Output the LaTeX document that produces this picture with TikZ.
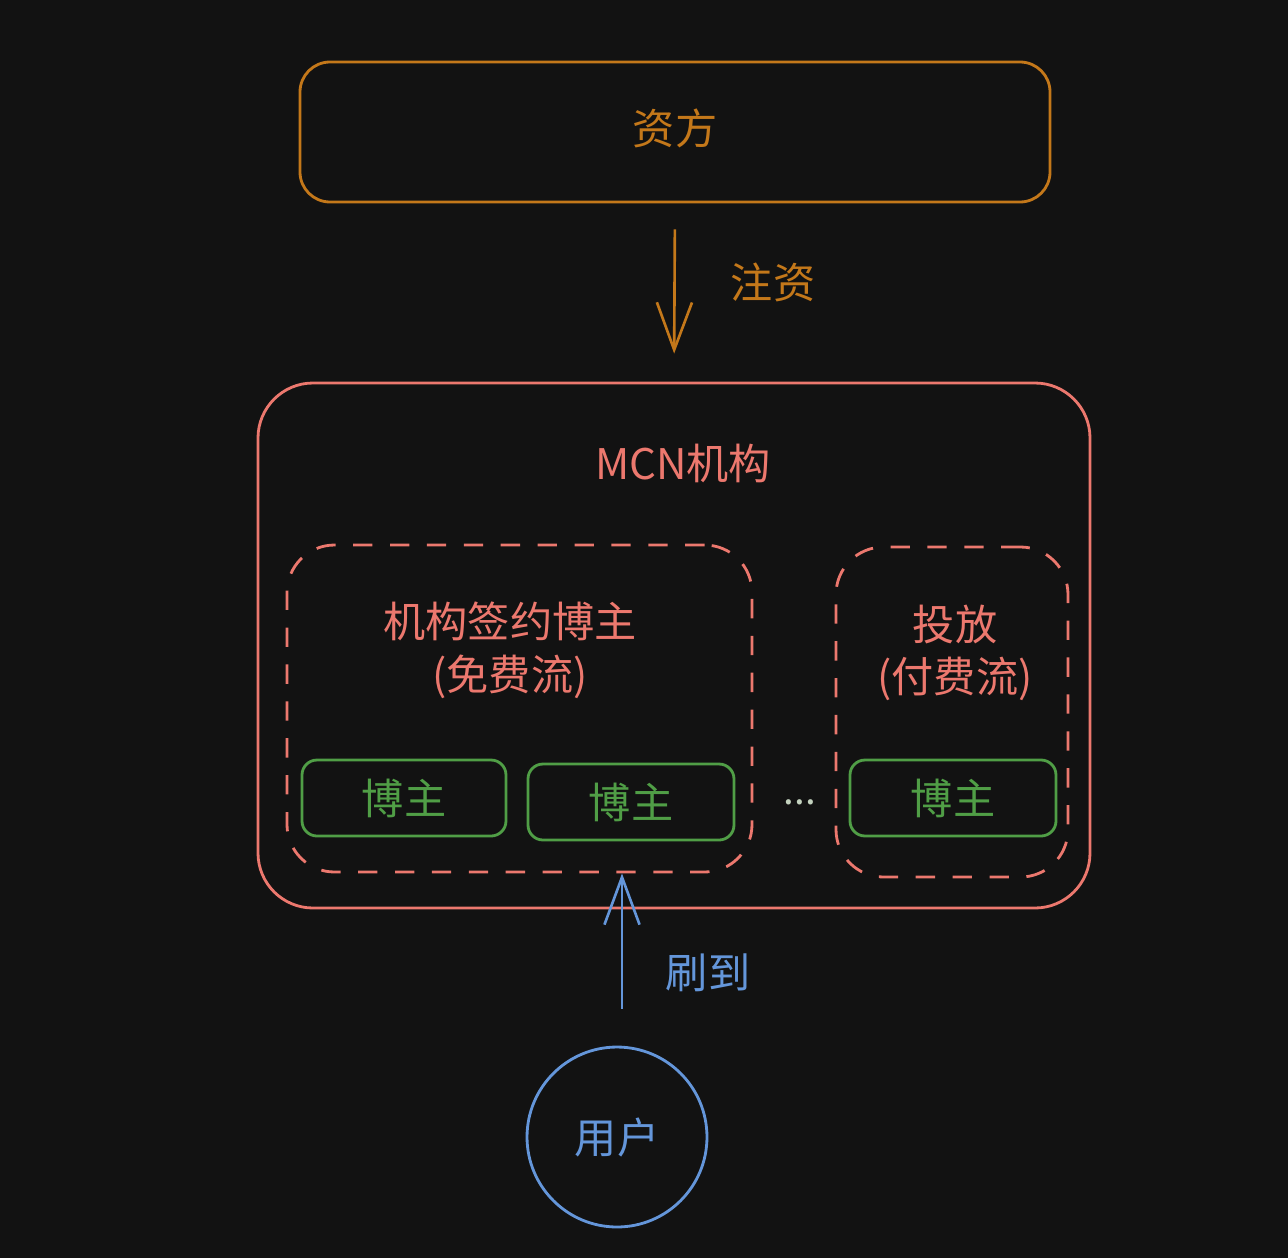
\documentclass[tikz,border=0pt]{standalone}
\usepackage{fontspec}
\setmainfont{Noto Sans CJK SC}
\usetikzlibrary{positioning,arrows.meta,fit}
\definecolor{bgdark}{RGB}{18,18,18}
\definecolor{fundorange}{RGB}{196,120,26}
\definecolor{mcnred}{RGB}{236,120,110}
\definecolor{bloggreen}{RGB}{80,158,70}
\definecolor{userblue}{RGB}{100,150,218}
\definecolor{dotgray}{RGB}{195,210,190}

\begin{document}
\begin{tikzpicture}[x=0.02cm,y=-0.02cm,
  every node/.style={font=\fontsize{24}{30}\selectfont},
  box/.style={draw,line width=1.6pt,inner sep=0pt},
  groupbox/.style={box,mcnred,dash pattern=on 11pt off 10pt,rounded corners=0.95cm},
  bloggerbox/.style={box,bloggreen,rounded corners=0.3cm},
  flow/.style={line width=1.5pt,-{Straight Barb[length=27pt,width=20pt,line width=1.5pt]}}]
\fill[bgdark] (0,0) rectangle (1288,1258);

% investor
\node[box,fundorange,rounded corners=0.6cm,fit={(300,62) (1050,202)}] (fund) {};
\node[fundorange] (fundlabel) at (675,128) {资方};

% MCN
\node[box,mcnred,rounded corners=1.1cm,fit={(258,383) (1090,908)}] (mcn) {};
\node[mcnred] (mcnlabel) at (683,463) {MCN机构};

% free flow / paid flow
\node[groupbox,fit={(287,545) (752,872)}] (free) {};
\node[mcnred,align=center] (freelabel) at (510,650) {机构签约博主\\(免费流)};
\node[groupbox,fit={(836,547) (1068,877)}] (paid) {};
\node[mcnred,align=center] (paidlabel) at (955,653) {投放\\(付费流)};

% bloggers
\node[bloggerbox,fit={(302,760) (506,836)}] (blogA) {};
\node[bloggreen] at (blogA) {博主};
\node[bloggerbox,fit={(528,764) (734,840)}] (blogB) {};
\node[bloggreen] at (blogB) {博主};
\node[bloggerbox,fit={(850,760) (1056,836)}] (blogC) {};
\node[bloggreen] at (blogC) {博主};
\node[dotgray,font=\fontsize{22}{24}\selectfont] (dots) at (800,802) {...};

% user
\node[draw,circle,userblue,line width=1.6pt,minimum size=3.6cm,inner sep=0pt] (user) at (617,1137) {};
\node[userblue] (userlabel) at (user) {用户};

% flows
\draw[flow,fundorange,shorten <=0.52cm,shorten >=0.56cm] (fund.south) -- (mcn.north);
\node[fundorange] (injectlabel) at (773,282) {注资};
\draw[flow,userblue,shorten <=0.74cm] ([xshift=0.1cm]user.north) -- ([xshift=0.1cm]user.north |- free.south);
\node[userblue] (seelabel) at (708,973) {刷到};
\end{tikzpicture}
\end{document}
